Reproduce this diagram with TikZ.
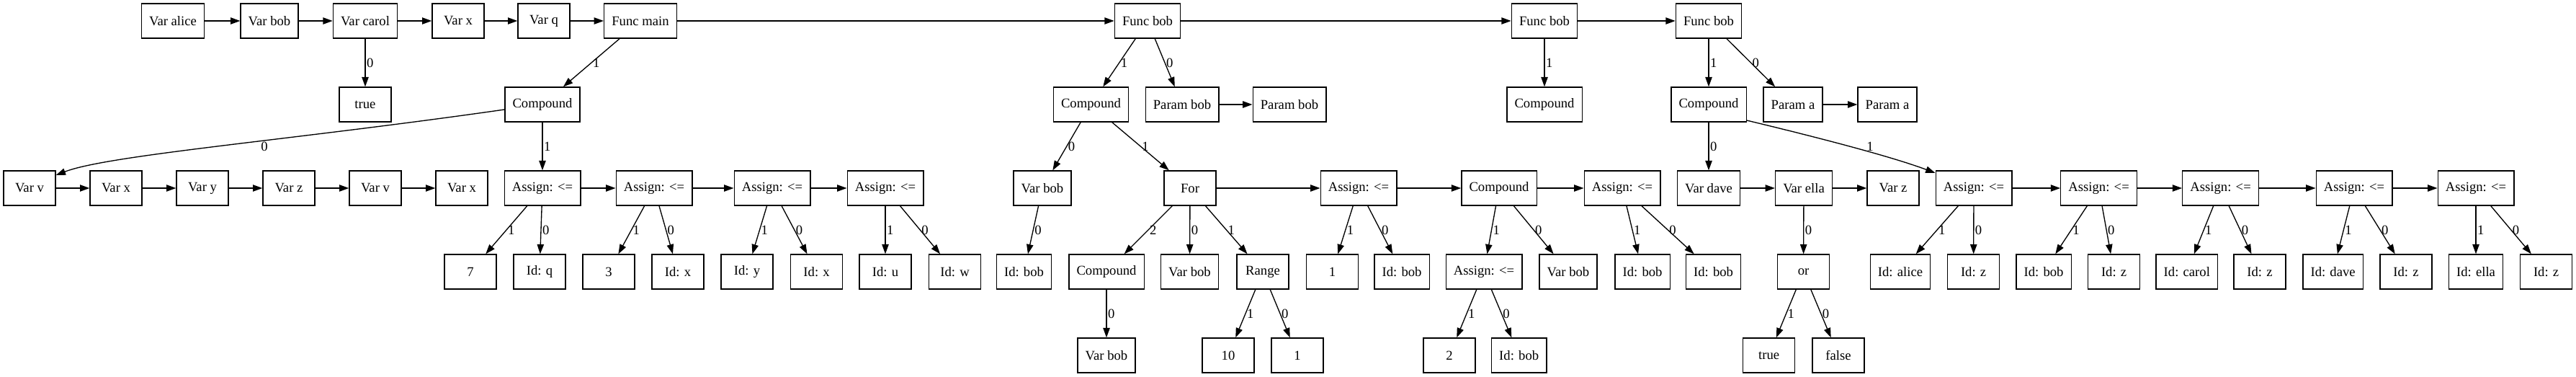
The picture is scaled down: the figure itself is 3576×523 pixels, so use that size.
\documentclass[tikz,border=0pt]{standalone}
\usepackage{fontspec}
\setmainfont{Liberation Serif}
\usetikzlibrary{arrows.meta}
\tikzset{
  box/.style={draw, line width=1pt, rectangle, minimum width=54pt, minimum height=36pt, inner xsep=8pt, inner ysep=0pt, font=\fontsize{14}{16}\selectfont},
  e/.style={-{Triangle[length=10pt,width=7pt]}, line width=1pt},
  lbl/.style={midway, right, inner sep=1pt, font=\fontsize{14}{16}\selectfont},
  flbl/.style={inner sep=1pt, font=\fontsize{14}{16}\selectfont}
}
\begin{document}
\begin{tikzpicture}[x=0.75pt, y=-0.75pt]
\useasboundingbox (0,0) rectangle (3576,523);
% Row 1
\node[box] (a1) at (240,29) {Var alice};
\node[box] (a2) at (374,29) {Var bob};
\node[box] (a3) at (507,29) {Var carol};
\node[box] (a4) at (636,29) {Var x};
\node[box] (a5) at (755,29) {Var q};
\node[box] (fmain) at (889,29) {Func main};
\node[box] (fb1) at (1593,29) {Func bob};
\node[box] (fb2) at (2144,29) {Func bob};
\node[box] (fb3) at (2372,29) {Func bob};
% Row 2
\node[box] (t1) at (507,145) {true};
\node[box] (c1) at (753,145) {Compound};
\node[box] (c2) at (1514.5,145) {Compound};
\node[box] (pb1) at (1641,145) {Param bob};
\node[box] (pb2) at (1790,145) {Param bob};
\node[box] (c3) at (2144,145) {Compound};
\node[box] (c4) at (2372,145) {Compound};
\node[box] (pa1) at (2489,145) {Param a};
\node[box] (pa2) at (2620,145) {Param a};
% Row 3
\node[box] (v1) at (41,261) {Var v};
\node[box] (v2) at (161,261) {Var x};
\node[box] (v3) at (281,261) {Var y};
\node[box] (v4) at (401,261) {Var z};
\node[box] (v5) at (521,261) {Var v};
\node[box] (v6) at (641,261) {Var x};
\node[box] (as1) at (753,261) {Assign: <=};
\node[box] (as2) at (908,261) {Assign: <=};
\node[box] (as3) at (1072,261) {Assign: <=};
\node[box] (as4) at (1229,261) {Assign: <=};
\node[box] (vb1) at (1447,261) {Var bob};
\node[box] (for) at (1652,261) {For};
\node[box] (as5) at (1886,261) {Assign: <=};
\node[box] (c5) at (2081,261) {Compound};
\node[box] (as6) at (2252,261) {Assign: <=};
\node[box] (vd) at (2372,261) {Var dave};
\node[box] (ve) at (2504,261) {Var ella};
\node[box] (vz) at (2628,261) {Var z};
\node[box] (as7) at (2740,261) {Assign: <=};
\node[box] (as8) at (2913.6,261) {Assign: <=};
\node[box] (as9) at (3082.6,261) {Assign: <=};
\node[box] (as10) at (3268,261) {Assign: <=};
\node[box] (as11) at (3437,261) {Assign: <=};
% Row 4
\node[box] (n7) at (653,377) {7};
\node[box] (iq) at (749,377) {Id: q};
\node[box] (n3) at (845,377) {3};
\node[box] (ix1) at (941,377) {Id: x};
\node[box] (iy) at (1037,377) {Id: y};
\node[box] (ix2) at (1133.6,377) {Id: x};
\node[box] (iu) at (1229,377) {Id: u};
\node[box] (iw) at (1325.6,377) {Id: w};
\node[box] (ib1) at (1421.5,377) {Id: bob};
\node[box] (c6) at (1536,377) {Compound};
\node[box] (vb2) at (1651.5,377) {Var bob};
\node[box] (rg) at (1753,377) {Range};
\node[box] (n1a) at (1849.5,377) {1};
\node[box] (ib2) at (1946,377) {Id: bob};
\node[box] (as12) at (2060,377) {Assign: <=};
\node[box] (vb3) at (2177,377) {Var bob};
\node[box] (ib3) at (2280,377) {Id: bob};
\node[box] (ib4) at (2378.5,377) {Id: bob};
\node[box] (or) at (2503.5,377) {or};
\node[box] (ial) at (2638,377) {Id: alice};
\node[box] (iz1) at (2739.6,377) {Id: z};
\node[box] (ib5) at (2837,377) {Id: bob};
\node[box] (iz2) at (2934.6,377) {Id: z};
\node[box] (ica) at (3035.8,377) {Id: carol};
\node[box] (iz3) at (3137,377) {Id: z};
\node[box] (ida) at (3238.6,377) {Id: dave};
\node[box] (iz4) at (3340,377) {Id: z};
\node[box] (iel) at (3437,377) {Id: ella};
\node[box] (iz5) at (3534.6,377) {Id: z};
% Row 5
\node[box] (vb4) at (1536,493) {Var bob};
\node[box] (n10) at (1705,493) {10};
\node[box] (n1b) at (1801,493) {1};
\node[box] (n2) at (2012,493) {2};
\node[box] (ib6) at (2108.7,493) {Id: bob};
\node[box] (tr) at (2455.6,493) {true};
\node[box] (fa) at (2552,493) {false};
% chains
\draw[e] (a1) -- (a2);
\draw[e] (a2) -- (a3);
\draw[e] (a3) -- (a4);
\draw[e] (a4) -- (a5);
\draw[e] (a5) -- (fmain);
\draw[e] (fmain) -- (fb1);
\draw[e] (fb1) -- (fb2);
\draw[e] (fb2) -- (fb3);
\draw[e] (pb1) -- (pb2);
\draw[e] (pa1) -- (pa2);
\draw[e] (v1) -- (v2);
\draw[e] (v2) -- (v3);
\draw[e] (v3) -- (v4);
\draw[e] (v4) -- (v5);
\draw[e] (v5) -- (v6);
\draw[e] (as1) -- (as2);
\draw[e] (as2) -- (as3);
\draw[e] (as3) -- (as4);
\draw[e] (for) -- (as5);
\draw[e] (as5) -- (c5);
\draw[e] (c5) -- (as6);
\draw[e] (vd) -- (ve);
\draw[e] (ve) -- (vz);
\draw[e] (as7) -- (as8);
\draw[e] (as8) -- (as9);
\draw[e] (as9) -- (as10);
\draw[e] (as10) -- (as11);
% tree edges
\draw[e] (a3) -- (t1) node[lbl] {0};
\draw[e] (fmain) -- (c1) node[lbl] {1};
\draw[e] (c1.west |- 0,152) .. controls (400,195) and (150,215) .. (v1.north east |- 0,243);
\node[flbl] (l0a) at (367,203) {0};
\draw[e] (c1) -- (as1) node[lbl] {1};
\draw[e] (as1) -- (n7) node[lbl] {1};
\draw[e] (as1) -- (iq) node[lbl] {0};
\draw[e] (as2) -- (n3) node[lbl] {1};
\draw[e] (as2) -- (ix1) node[lbl] {0};
\draw[e] (as3) -- (iy) node[lbl] {1};
\draw[e] (as3) -- (ix2) node[lbl] {0};
\draw[e] (as4) -- (iu) node[lbl] {1};
\draw[e] (as4) -- (iw) node[lbl] {0};
\draw[e] (fb1) -- (c2) node[lbl] {1};
\draw[e] (fb1) -- (pb1) node[lbl] {0};
\draw[e] (c2) -- (vb1) node[lbl] {0};
\draw[e] (c2) -- (for) node[lbl] {1};
\draw[e] (vb1) -- (ib1) node[lbl] {0};
\draw[e] (for) -- (c6) node[lbl] {2};
\draw[e] (for) -- (vb2) node[lbl] {0};
\draw[e] (for) -- (rg) node[lbl] {1};
\draw[e] (c6) -- (vb4) node[lbl] {0};
\draw[e] (rg) -- (n10) node[lbl] {1};
\draw[e] (rg) -- (n1b) node[lbl] {0};
\draw[e] (as5) -- (n1a) node[lbl] {1};
\draw[e] (as5) -- (ib2) node[lbl] {0};
\draw[e] (c5) -- (as12) node[lbl] {1};
\draw[e] (c5) -- (vb3) node[lbl] {0};
\draw[e] (as12) -- (n2) node[lbl] {1};
\draw[e] (as12) -- (ib6) node[lbl] {0};
\draw[e] (as6) -- (ib3) node[lbl] {1};
\draw[e] (as6) -- (ib4) node[lbl] {0};
\draw[e] (fb2) -- (c3) node[lbl] {1};
\draw[e] (fb3) -- (c4) node[lbl] {1};
\draw[e] (fb3) -- (pa1) node[lbl] {0};
\draw[e] (c4) -- (vd) node[lbl] {0};
\draw[e] (c4.east |- 0,167) .. controls (2500,185) and (2620,215) .. (as7.north west |- 0,240);
\node[flbl] (l1a) at (2596,203) {1};
\draw[e] (ve) -- (or) node[lbl] {0};
\draw[e] (or) -- (tr) node[lbl] {1};
\draw[e] (or) -- (fa) node[lbl] {0};
\draw[e] (as7) -- (ial) node[lbl] {1};
\draw[e] (as7) -- (iz1) node[lbl] {0};
\draw[e] (as8) -- (ib5) node[lbl] {1};
\draw[e] (as8) -- (iz2) node[lbl] {0};
\draw[e] (as9) -- (ica) node[lbl] {1};
\draw[e] (as9) -- (iz3) node[lbl] {0};
\draw[e] (as10) -- (ida) node[lbl] {1};
\draw[e] (as10) -- (iz4) node[lbl] {0};
\draw[e] (as11) -- (iel) node[lbl] {1};
\draw[e] (as11) -- (iz5) node[lbl] {0};
\end{tikzpicture}
\end{document}
